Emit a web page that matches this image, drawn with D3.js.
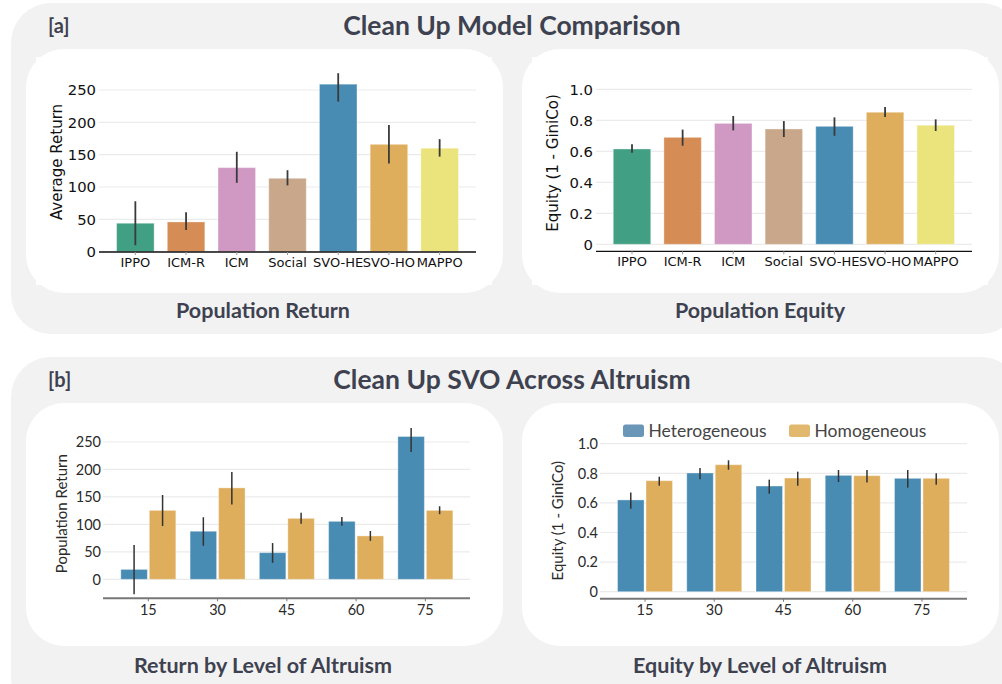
<!DOCTYPE html>
<html>
<head>
<meta charset="utf-8">
<script src="https://cdn.jsdelivr.net/npm/d3@7"></script>
<style>
  body { margin: 0; background: #fff; }
  svg { display: block; }
</style>
</head>
<body>
<div id="fig"></div>
<script>
// ---- data ----
const models = ['IPPO', 'ICM-R', 'ICM', 'Social', 'SVO-HE', 'SVO-HO', 'MAPPO'];
const modelColors = ['#41a083', '#d68c55', '#cf99c3', '#c9a78a', '#488cb3', '#dfae5c', '#ebe37c'];
const returnMean = [44, 46, 130, 113.5, 259, 166, 160];
const returnLo = [10, 33.5, 106.5, 102.5, 232, 136.5, 147];
const returnHi = [78, 61, 154.5, 126, 276, 196, 174];
const equityMean = [0.615, 0.69, 0.78, 0.744, 0.761, 0.852, 0.768];
const equityLo = [0.59, 0.636, 0.735, 0.692, 0.70, 0.821, 0.731];
const equityHi = [0.645, 0.74, 0.828, 0.795, 0.819, 0.886, 0.806];

const altruism = ['15', '30', '45', '60', '75'];
const groups = ['Heterogeneous', 'Homogeneous'];
const groupColors = ['#488bb3', '#dfae5c'];
const legendColors = ['#6a96b8', '#e2b86e'];
const hetReturn = [18, 87.5, 48.5, 105.5, 260];
const hetReturnLo = [-27, 61, 30, 97.5, 232];
const hetReturnHi = [62.5, 113, 66, 113.5, 275.5];
const homReturn = [125.5, 166.5, 111, 79, 125.5];
const homReturnLo = [97, 136, 101, 70, 118.5];
const homReturnHi = [153.5, 195.5, 121, 88, 133];
const hetEquity = [0.62, 0.802, 0.714, 0.786, 0.766];
const hetEquityLo = [0.561, 0.759, 0.662, 0.741, 0.703];
const hetEquityHi = [0.671, 0.836, 0.757, 0.822, 0.822];
const homEquity = [0.75, 0.858, 0.768, 0.784, 0.766];
const homEquityLo = [0.716, 0.824, 0.716, 0.737, 0.723];
const homEquityHi = [0.777, 0.888, 0.811, 0.822, 0.80];

const returnTicks = [0, 50, 100, 150, 200, 250];
const equityTicks = [0, 0.2, 0.4, 0.6, 0.8, 1.0];

const W = 1002, H = 684;
const svg = d3.select('#fig').append('svg').attr('width', W).attr('height', H);

const TITLE = '#3e4250';
const SANS = 'Lato, "Noto Sans", sans-serif';
const MPL = '"DejaVu Sans", sans-serif';

// ---- panels ----
svg.append('rect').attr('x', 11).attr('y', 3).attr('width', 1010).attr('height', 331).attr('rx', 40).attr('fill', '#f2f2f2');
svg.append('rect').attr('x', 11).attr('y', 357).attr('width', 1010).attr('height', 360).attr('rx', 40).attr('fill', '#f2f2f2');
[[26, 49, 244], [522, 49, 244], [26, 403, 243], [522, 403, 243]].forEach(([x, y, h]) => {
  svg.append('rect').attr('x', x).attr('y', y).attr('width', 477).attr('height', h).attr('rx', 38).attr('fill', '#fff');
});
// figure images sit over the rounded panels
svg.append('rect').attr('x', 36).attr('y', 57).attr('width', 456).attr('height', 228).attr('fill', '#fff');
svg.append('rect').attr('x', 532).attr('y', 57).attr('width', 456).attr('height', 228).attr('fill', '#fff');

function text(x, y, str, size, opts = {}) {
  return svg.append('text').attr('x', x).attr('y', y).text(str)
    .attr('font-family', opts.family || SANS)
    .attr('font-size', size)
    .attr('font-weight', opts.weight || 'normal')
    .attr('fill', opts.fill || TITLE)
    .attr('text-anchor', opts.anchor || 'middle');
}

text(512, 35, 'Clean Up Model Comparison', 26.5, { weight: 700 });
text(48, 33, '[a]', 20, { weight: 700, anchor: 'start' });
text(263, 318, 'Population Return', 21.5, { weight: 700 });
text(760, 318, 'Population Equity', 21.5, { weight: 700 });
text(512, 389, 'Clean Up SVO Across Altruism', 26.5, { weight: 700 });
text(48, 387, '[b]', 20, { weight: 700, anchor: 'start' });
text(263, 673, 'Return by Level of Altruism', 21.5, { weight: 700 });
text(760, 673, 'Equity by Level of Altruism', 21.5, { weight: 700 });

// ---- matplotlib style bar chart ----
function modelChart(cfg) {
  const g = svg.append('g');
  const x = d3.scaleBand().domain(models).range(cfg.xRange).paddingInner(0.26).paddingOuter(0.13);
  const y = d3.scaleLinear().domain([0, cfg.top]).range(cfg.yRange);

  g.selectAll('.grid').data(cfg.ticks).enter().append('line')
    .attr('x1', cfg.axisX[0]).attr('x2', cfg.axisX[1])
    .attr('y1', d => y(d)).attr('y2', d => y(d))
    .attr('stroke', '#ebebeb').attr('stroke-width', 1.2);

  g.selectAll('.bar').data(models).enter().append('rect')
    .attr('x', d => x(d)).attr('width', x.bandwidth())
    .attr('y', (d, i) => y(cfg.mean[i]))
    .attr('height', (d, i) => y(0) - y(cfg.mean[i]))
    .attr('fill', (d, i) => modelColors[i])
    .attr('stroke', '#fff').attr('stroke-opacity', 0.35).attr('stroke-width', 1);

  g.selectAll('.err').data(models).enter().append('line')
    .attr('x1', d => x(d) + x.bandwidth() / 2).attr('x2', d => x(d) + x.bandwidth() / 2)
    .attr('y1', (d, i) => y(cfg.lo[i])).attr('y2', (d, i) => y(cfg.hi[i]))
    .attr('stroke', '#3a3a3a').attr('stroke-width', 1.8);

  g.append('line').attr('x1', cfg.axisX[0]).attr('x2', cfg.axisX[1])
    .attr('y1', cfg.axisY).attr('y2', cfg.axisY)
    .attr('stroke', '#111').attr('stroke-width', 1.3);

  g.selectAll('.tk').data(models).enter().append('line')
    .attr('x1', d => x(d) + x.bandwidth() / 2).attr('x2', d => x(d) + x.bandwidth() / 2)
    .attr('y1', cfg.axisY).attr('y2', cfg.axisY + 3)
    .attr('stroke', '#999').attr('stroke-width', 1);

  g.selectAll('.xl').data(models).enter().append('text')
    .attr('x', d => x(d) + x.bandwidth() / 2).attr('y', cfg.axisY + 14.5)
    .attr('text-anchor', 'middle').attr('font-family', MPL).attr('font-size', 13)
    .attr('fill', '#111').text(d => d);

  g.selectAll('.yl').data(cfg.ticks).enter().append('text')
    .attr('x', cfg.axisX[0] - 3).attr('y', d => y(d)).attr('dy', '0.36em')
    .attr('text-anchor', 'end').attr('font-family', MPL).attr('font-size', 14.8)
    .attr('fill', '#111').text(cfg.fmt);

  g.append('text').attr('transform', `translate(${cfg.labelX},${cfg.labelY}) rotate(-90)`)
    .attr('text-anchor', 'middle').attr('font-family', MPL).attr('font-size', 15)
    .attr('fill', '#111').text(cfg.label);
}

modelChart({
  xRange: [110, 465], axisX: [99, 476], axisY: 252, yRange: [251.7, 90], top: 250,
  ticks: returnTicks, mean: returnMean, lo: returnLo, hi: returnHi,
  fmt: d => d, label: 'Average Return', labelX: 62, labelY: 162
});
modelChart({
  xRange: [606.7, 961], axisX: [596, 972], axisY: 251.3, yRange: [244.3, 89.3], top: 1,
  ticks: equityTicks, mean: equityMean, lo: equityLo, hi: equityHi,
  fmt: d => d === 0 ? '0' : d.toFixed(1), label: 'Equity (1 - GiniCo)', labelX: 558, labelY: 163
});

// ---- grouped (plotly style) bar chart ----
function groupChart(cfg) {
  const g = svg.append('g');
  const x0 = d3.scaleBand().domain(altruism).range(cfg.xRange).paddingInner(0.206).paddingOuter(0.103);
  const x1 = d3.scaleBand().domain(groups).range([0, x0.bandwidth()]).paddingInner(0.07);
  const y = d3.scaleLinear().domain([0, cfg.top]).range(cfg.yRange);

  g.selectAll('.grid').data(cfg.ticks).enter().append('line')
    .attr('x1', cfg.axisX[0]).attr('x2', cfg.axisX[1])
    .attr('y1', d => y(d)).attr('y2', d => y(d))
    .attr('stroke', '#ebebeb').attr('stroke-width', 1.2);

  const series = groups.map((grp, gi) => altruism.map((a, i) => ({
    a, grp, gi, v: cfg.mean[gi][i], lo: cfg.lo[gi][i], hi: cfg.hi[gi][i]
  }))).flat();

  g.selectAll('.bar').data(series).enter().append('rect')
    .attr('x', d => x0(d.a) + x1(d.grp)).attr('width', x1.bandwidth())
    .attr('y', d => y(Math.max(0, d.v)))
    .attr('height', d => Math.abs(y(0) - y(d.v)))
    .attr('fill', d => groupColors[d.gi])
    .attr('stroke', '#fff').attr('stroke-opacity', 0.35).attr('stroke-width', 1);

  g.selectAll('.err').data(series).enter().append('line')
    .attr('x1', d => x0(d.a) + x1(d.grp) + x1.bandwidth() / 2)
    .attr('x2', d => x0(d.a) + x1(d.grp) + x1.bandwidth() / 2)
    .attr('y1', d => y(d.lo)).attr('y2', d => y(d.hi))
    .attr('stroke', '#333').attr('stroke-width', 1.5);

  g.append('line').attr('x1', cfg.axisX[0]).attr('x2', cfg.axisX[1])
    .attr('y1', cfg.axisY).attr('y2', cfg.axisY)
    .attr('stroke', '#777').attr('stroke-width', 2);

  g.selectAll('.tk').data(altruism).enter().append('line')
    .attr('x1', d => x0(d) + x0.bandwidth() / 2).attr('x2', d => x0(d) + x0.bandwidth() / 2)
    .attr('y1', cfg.axisY).attr('y2', cfg.axisY + 3)
    .attr('stroke', '#777').attr('stroke-width', 1);

  g.selectAll('.xl').data(altruism).enter().append('text')
    .attr('x', d => x0(d) + x0.bandwidth() / 2).attr('y', cfg.axisY + 16.5)
    .attr('text-anchor', 'middle').attr('font-family', SANS).attr('font-size', 14.5)
    .attr('fill', '#2a2a2a').text(d => d);

  g.selectAll('.yl').data(cfg.ticks).enter().append('text')
    .attr('x', cfg.axisX[0] - 2).attr('y', d => y(d)).attr('dy', '0.36em')
    .attr('text-anchor', 'end').attr('font-family', SANS).attr('font-size', 14.5)
    .attr('fill', '#2a2a2a').text(cfg.fmt);

  const cy = (cfg.yRange[0] + cfg.yRange[1]) / 2 + 3;
  g.append('text').attr('transform', `translate(${cfg.labelX},${cy}) rotate(-90)`)
    .attr('text-anchor', 'middle').attr('font-family', SANS).attr('font-size', 15)
    .attr('fill', '#2a2a2a').text(cfg.label);
}

groupChart({
  xRange: [113.7, 460], axisX: [103, 470], axisY: 598.3, yRange: [579.3, 442], top: 250,
  ticks: returnTicks,
  mean: [hetReturn, homReturn], lo: [hetReturnLo, homReturnLo], hi: [hetReturnHi, homReturnHi],
  fmt: d => d, label: 'Population Return', labelX: 67
});
groupChart({
  xRange: [610.4, 956.6], axisX: [600, 967], axisY: 598.7, yRange: [591.7, 443.7], top: 1,
  ticks: equityTicks,
  mean: [hetEquity, homEquity], lo: [hetEquityLo, homEquityLo], hi: [hetEquityHi, homEquityHi],
  fmt: d => d === 0 ? '0' : d.toFixed(1), label: 'Equity (1 - GiniCo)', labelX: 563
});

// legend
const legend = svg.append('g');
const legendX = [623, 789];
groups.forEach((grp, i) => {
  legend.append('rect').attr('x', legendX[i]).attr('y', 424.5).attr('width', 21).attr('height', 12.5)
    .attr('rx', 2.5).attr('fill', legendColors[i]);
  legend.append('text').attr('x', legendX[i] + 25.5).attr('y', 437)
    .attr('font-family', SANS).attr('font-size', 17.5).attr('fill', '#444').text(grp);
});
</script>
</body>
</html>
